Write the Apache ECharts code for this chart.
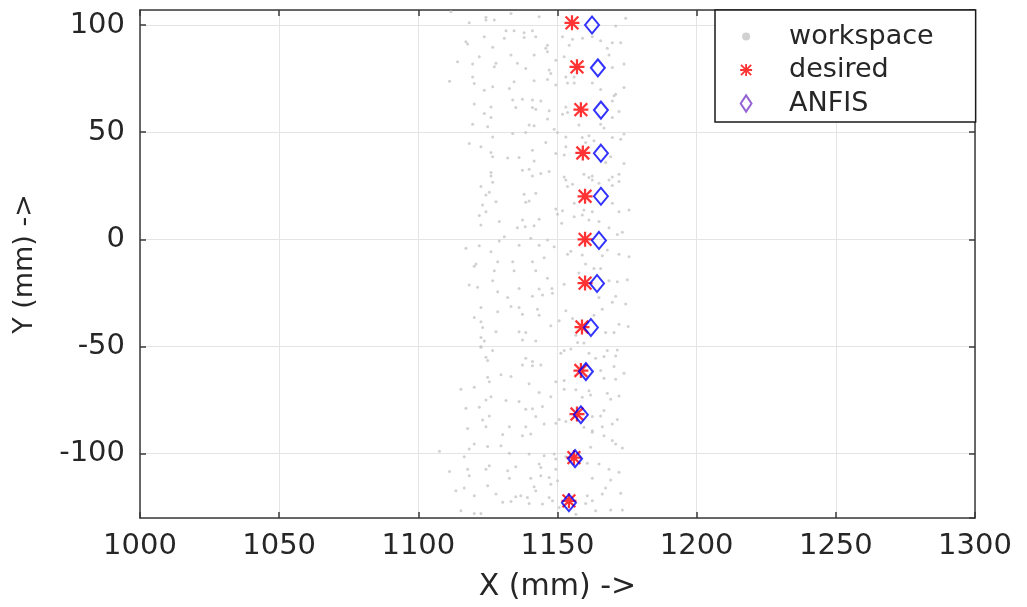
<!DOCTYPE html>
<html>
<head>
<meta charset="utf-8">
<script src="https://cdn.jsdelivr.net/npm/echarts@6/dist/echarts.min.js"></script>
<style>html,body{margin:0;padding:0;background:#fff;}#main{width:1027px;height:607px;}</style>
</head>
<body>
<div id="main"></div>
<script>
// ---- data (mm) ----
const xTicks = [1000, 1050, 1100, 1150, 1200, 1250, 1300];
const yTicks = [-100, -50, 0, 50, 100];

const desiredX = [1155.2, 1157.0, 1158.4, 1159.1, 1159.9, 1159.9, 1159.9, 1158.8, 1158.4, 1157.0, 1155.9, 1154.1];
const desiredY = [101, 80.5, 60.5, 40.3, 20.1, 0, -20.4, -40.9, -61.2, -81.5, -101.8, -122];

const anfisX = [1162.4, 1164.5, 1165.6, 1165.6, 1165.6, 1164.9, 1164.2, 1162.0, 1160.2, 1158.4, 1156.3, 1154.1];
const anfisY = [100, 80, 60.3, 40.2, 20.1, -0.5, -20.6, -41.1, -61.7, -81.8, -102.3, -122.9];

const workspace = [
[1111.7,106.2],[1133.3,105.4],[1143.4,103.9],[1124.3,103.6],[1124.3,102.3],[1127.3,102.3],[1118.3,101.1],[1174.5,103.1],[1170.9,99.5],[1131.5,97.3],
[1134.4,97.3],[1138.0,96.4],[1141.0,97.3],[1142.2,94.5],[1123.7,94.5],[1138.0,94.2],[1117.1,92.2],[1117.7,91.1],[1130.9,93.8],[1126.7,89.6],
[1146.4,90.6],[1145.8,89.1],[1146.4,87.5],[1155.4,93.3],[1159.0,93.8],[1151.8,94.5],[1165.5,92.7],[1169.7,91.7],[1172.7,91.7],[1154.2,90.6],
[1162.5,94.5],[1167.9,89.1],[1168.5,86.0],[1133.3,86.0],[1141.6,86.0],[1121.9,85.2],[1114.1,82.9],[1119.5,81.8],[1127.9,82.1],[1127.3,80.5],
[1135.6,82.1],[1149.4,83.6],[1138.6,79.7],[1147.0,79.0],[1147.6,77.4],[1169.7,80.2],[1173.9,81.8],[1152.4,85.2],[1153.0,75.8],[1156.0,75.8],
[1153.6,73.0],[1156.0,73.0],[1162.5,73.0],[1165.5,69.9],[1170.9,67.7],[1173.9,70.9],[1119.5,75.8],[1120.1,72.7],[1111.2,73.8],[1134.4,73.5],
[1141.6,74.0],[1146.4,74.6],[1149.4,72.0],[1123.7,69.6],[1126.7,71.2],[1132.7,70.4],
[1120.1,63.1],[1126.1,61.8],[1133.9,65.0],[1137.4,65.4],[1141.0,65.0],[1144.0,64.6],[1135.0,61.5],[1141.0,61.5],[1142.2,60.7],[1147.0,60.0],
[1123.7,58.7],[1126.1,56.9],[1146.4,56.1],[1153.0,61.8],[1151.8,58.4],[1153.6,59.2],[1119.5,53.7],[1124.9,52.5],[1139.8,53.4],[1141.6,53.0],
[1148.8,51.4],[1157.7,53.4],[1165.5,53.7],[1166.7,51.9],[1169.7,56.9],[1172.1,59.7],[1169.7,64.6],[1170.3,67.0],[1126.7,47.8],[1133.9,49.4],
[1138.6,49.9],[1118.3,44.7],[1122.5,43.2],[1145.8,45.2],[1150.0,49.9],[1153.0,47.8],[1158.9,47.5],[1161.3,48.3],[1163.1,46.0],[1160.1,45.2],
[1169.7,47.5],[1172.7,46.7],[1173.9,49.1],[1153.0,43.2],[1149.4,40.0],[1152.4,39.4],[1126.1,40.5],[1126.7,38.5],[1132.1,37.9],[1136.2,38.2],
[1141.0,41.6],[1141.6,36.6],[1139.8,32.7],[1137.4,32.2],[1144.0,30.7],[1147.0,31.6],[1126.1,31.2],[1126.1,29.6],[1141.0,29.6],[1152.4,29.1],
[1159.5,30.4],[1161.3,28.8],[1162.5,29.6],[1167.3,35.8],[1169.1,38.5],[1173.9,35.4],[1172.1,30.4],[1169.7,29.1],
[1122.5,24.6],[1126.7,26.6],[1125.5,22.0],[1124.3,20.7],[1127.9,17.6],[1123.1,16.0],[1124.3,12.9],[1121.9,11.1],[1122.5,6.7],[1129.1,8.3],
[1138.0,21.0],[1142.2,21.5],[1138.6,17.3],[1139.8,17.9],[1137.4,9.0],[1143.4,9.4],[1135.6,5.4],[1138.4,5.9],[1141.6,6.4],[1149.4,14.2],
[1150.0,11.7],[1151.8,13.4],[1151.5,7.5],[1153.0,27.7],[1155.4,25.7],[1153.6,24.6],[1162.5,27.7],[1164.9,26.2],[1168.5,27.7],[1169.7,25.1],
[1172.1,27.0],[1156.0,16.8],[1159.5,13.7],[1162.5,12.9],[1158.9,11.4],[1156.0,10.6],[1161.3,9.0],[1164.9,8.3],[1169.7,16.8],[1172.1,12.9],
[1175.7,13.7],[1168.5,5.4],[1171.5,2.3],[1173.3,3.3],[1130.9,1.2],[1129.1,-0.8],[1140.4,0.5],[1146.4,-0.3],[1117.1,-4.2],[1121.9,-3.0],
[1126.1,-5.8],[1136.2,-2.7],[1143.4,-2.7],[1148.8,-3.4],[1154.8,-5.5],[1153.6,-7.0],[1158.9,-7.3],[1166.1,-7.6],[1167.9,-5.0],[1172.1,-7.0],
[1175.7,-8.1],[1145.2,-8.6],[1128.5,-10.4],[1133.9,-10.4],[1141.0,-10.4],
[1120.1,-12.6],[1120.7,-11.5],[1127.3,-14.6],[1134.4,-14.6],[1142.2,-14.6],[1146.4,-18.2],[1118.3,-21.3],[1121.3,-22.4],[1126.7,-19.3],[1128.5,-24.5],
[1136.2,-22.9],[1132.1,-27.1],[1141.0,-26.6],[1143.4,-23.2],[1144.6,-26.0],[1148.0,-22.9],[1148.2,-25.1],[1152.4,-20.9],[1160.1,-11.5],[1163.1,-13.6],
[1165.5,-13.6],[1157.7,-15.7],[1168.5,-19.3],[1171.5,-19.8],[1175.1,-18.8],[1164.9,-27.1],[1170.9,-26.6],[1169.7,-29.4],[1174.5,-30.2],[1166.1,-32.6],
[1122.5,-31.8],[1120.1,-36.5],[1122.5,-38.5],[1123.1,-41.1],[1128.5,-33.8],[1133.3,-31.3],[1136.2,-31.8],[1137.4,-34.9],[1142.8,-32.6],[1143.4,-35.4],
[1153.0,-33.3],[1155.4,-36.9],[1147.6,-40.3],[1150.6,-38.0],[1127.9,-43.1],[1136.2,-43.1],[1138.6,-43.5],[1122.5,-45.8],[1123.7,-47.4],[1122.5,-50.0],
[1137.4,-46.9],[1142.2,-47.4],[1156.6,-44.7],[1157.2,-48.1],[1159.5,-48.4],[1163.1,-35.4],[1167.3,-43.5],[1170.3,-43.5],[1172.1,-39.6],[1175.4,-40.7],
[1122.5,-50.3],[1126.7,-51.9],[1124.3,-55.0],[1124.9,-56.5],[1138.6,-55.5],[1141.0,-57.0],[1137.4,-58.6],[1141.0,-59.0],[1144.0,-58.6],[1151.2,-53.1],
[1152.4,-51.9],[1154.8,-51.2],[1161.3,-53.1],[1163.7,-55.5],[1166.7,-54.7],[1167.9,-51.9],[1170.9,-54.4],[1171.5,-51.6],[1129.7,-63.2],[1133.3,-64.0],
[1124.9,-64.3],[1125.5,-66.4],[1139.8,-67.4],[1149.4,-66.4],[1152.4,-65.9],[1115.3,-69.9],[1120.1,-69.0],[1165.5,-61.2],[1166.7,-64.8],[1170.9,-65.3],
[1173.9,-62.5],[1170.3,-59.3],[1152.4,-69.9],[1156.6,-70.2],[1161.3,-70.6],[1161.9,-72.6],[1158.9,-73.7],[1167.9,-71.8],[1172.1,-73.1],[1169.1,-74.6],
[1143.4,-71.5],[1147.6,-73.4],[1126.1,-73.4],[1124.3,-74.9],[1131.5,-75.2],[1136.2,-75.7],[1117.1,-78.8],[1121.9,-78.3],[1125.5,-82.4],[1123.1,-84.3],
[1138.6,-79.3],[1141.0,-79.0],[1144.6,-78.0],[1142.2,-82.7],[1150.6,-84.0],[1153.0,-85.0],[1162.5,-82.7],[1166.7,-79.9],[1165.5,-82.4],[1171.5,-84.0],
[1169.7,-86.1],[1166.1,-87.4],[1162.5,-89.3],[1159.5,-87.7],[1149.4,-85.8],[1145.2,-86.1],[1138.6,-87.4],[1132.7,-87.4],[1124.3,-87.4],[1117.7,-88.2],
[1130.3,-91.1],[1137.4,-91.6],[1140.4,-90.8],[1162.5,-90.0],[1166.7,-91.6],[1169.7,-93.9],[1170.9,-95.5],[1173.3,-97.4],[1161.9,-97.0],[1120.1,-95.5],
[1118.3,-97.8],[1124.9,-96.7],[1129.7,-96.3],[1107.6,-98.9],[1116.5,-101.4],[1132.7,-99.8],[1139.8,-100.2],[1145.2,-100.9],[1148.8,-100.2],[1149.4,-102.5],
[1153.0,-101.4],[1160.7,-104.5],[1164.9,-104.8],[1168.5,-107.2],[1172.1,-108.7],[1111.2,-108.3],[1117.7,-107.2],[1124.3,-107.2],[1125.5,-105.6],[1132.1,-107.9],
[1135.0,-106.1],[1143.4,-104.8],[1144.0,-106.4],[1118.3,-110.3],[1132.7,-111.4],[1140.4,-111.4],[1144.0,-110.3],[1147.0,-111.1],[1149.4,-107.2],[1162.5,-111.4],
[1169.1,-112.3],[1124.9,-114.9],[1116.5,-116.0],[1113.5,-117.3],[1141.6,-115.4],[1142.2,-117.3],[1147.6,-114.2],[1150.0,-112.6],[1166.1,-118.8],[1167.3,-116.0],
[1172.7,-118.5],[1162.5,-121.9],[1160.7,-119.6],[1160.1,-123.2],[1127.9,-118.8],[1120.1,-119.6],[1135.0,-120.1],[1136.8,-119.6],[1139.2,-120.4],[1139.8,-123.2],
[1144.6,-123.5],[1130.3,-122.7],[1133.3,-122.3],[1147.0,-120.4],[1148.2,-122.0],[1115.3,-126.6],[1120.1,-127.9],[1122.5,-127.9],[1150.6,-125.1],[1156.6,-128.2],
[1163.7,-126.6],[1169.1,-126.3],[1173.3,-126.3]
];

const seriesNames = ['workspace', 'desired', 'ANFIS'];

// ---- styling ----
const FONT = 'DejaVu Sans';
const AX = '#3a3a3a';
const TXT = '#262626';
const GRIDC = '#e4e4e4';
const ASTER = 'M8.5,0h3v20h-3zM0,8.5h20v3h-20zM2.56,0.44L19.56,17.44L17.44,19.56L0.44,2.56zM17.44,0.44L19.56,2.56L2.56,19.56L0.44,17.44z';
const iconDot = 'path://M0,0M18,18M5,9a4,4 0 1,0 8,0a4,4 0 1,0 -8,0Z';
const iconAster = 'path://M-5,-5M25,25' + ASTER;
const iconDiamond = 'path://M-3,-1M15,19M6,0L12,9L6,18L0,9Z';

const zip = (a, b) => a.map((v, i) => [v, b[i]]);

const chart = echarts.init(document.getElementById('main'), null, {renderer: 'canvas'});
chart.setOption({
  animation: false,
  backgroundColor: '#fff',
  grid: {left: 140, right: 52, top: 10, bottom: 89, containLabel: false},
  legend: {
    orient: 'vertical', left: 715, top: 10,
    itemWidth: 30, itemHeight: 18, itemGap: 6.5,
    padding: [13, 42, 5, 22],
    backgroundColor: '#fff', borderColor: '#1a1a1a', borderWidth: 1.5,
    selectedMode: false,
    textStyle: {fontFamily: FONT, fontSize: 27, color: TXT, padding: [0, 0, 0, 23]},
    data: [
      {name: seriesNames[0], icon: iconDot},
      {name: seriesNames[1], icon: iconAster},
      {name: seriesNames[2], icon: iconDiamond, itemStyle: {color: 'transparent', borderColor: '#7a3cc8', borderWidth: 2}}
    ]
  },
  xAxis: [{
    type: 'value', min: xTicks[0], max: xTicks[xTicks.length - 1], interval: 50,
    name: 'X (mm) ->', nameLocation: 'middle', nameGap: 54,
    nameTextStyle: {fontFamily: FONT, fontSize: 30, color: TXT},
    axisLine: {show: true, onZero: false, lineStyle: {color: AX, width: 1.5}},
    axisTick: {show: true, inside: true, length: 6, lineStyle: {color: AX, width: 1.5}},
    axisLabel: {fontFamily: FONT, fontSize: 29, color: TXT, margin: 14, formatter: v => String(v)},
    splitLine: {show: true, lineStyle: {color: GRIDC, width: 1}}
  }, {
    type: 'value', position: 'top', min: xTicks[0], max: xTicks[xTicks.length - 1], interval: 50,
    axisLine: {show: true, onZero: false, lineStyle: {color: AX, width: 1.5}},
    axisTick: {show: true, inside: true, length: 6, lineStyle: {color: AX, width: 1.5}},
    axisLabel: {show: false}, splitLine: {show: false}
  }],
  yAxis: [{
    type: 'value', min: -130, max: 107,
    name: 'Y (mm) ->', nameLocation: 'middle', nameGap: 102, nameRotate: 90,
    nameTextStyle: {fontFamily: FONT, fontSize: 27, color: TXT},
    axisLine: {show: true, onZero: false, lineStyle: {color: AX, width: 1.5}},
    axisTick: {show: true, inside: true, length: 6, lineStyle: {color: AX, width: 1.5}},
    axisLabel: {fontFamily: FONT, fontSize: 29, color: TXT, margin: 15, showMinLabel: false, showMaxLabel: false,
      formatter: v => (yTicks.indexOf(v) >= 0 ? String(v) : '')},
    splitLine: {show: true, lineStyle: {color: GRIDC, width: 1}}
  }, {
    type: 'value', position: 'right', min: -130, max: 107,
    axisLine: {show: true, onZero: false, lineStyle: {color: AX, width: 1.5}},
    axisTick: {show: true, inside: true, length: 6, lineStyle: {color: AX, width: 1.5}},
    axisLabel: {show: false}, splitLine: {show: false}
  }],
  series: [{
    name: seriesNames[0], type: 'scatter', data: workspace,
    symbol: 'circle', symbolSize: 3,
    itemStyle: {color: '#c6c6c6'}, silent: true, z: 2
  }, {
    name: seriesNames[1], type: 'scatter', data: zip(desiredX, desiredY),
    symbol: 'path://' + ASTER, symbolSize: 15,
    itemStyle: {color: '#ff0000'}, silent: true, z: 3
  }, {
    name: seriesNames[2], type: 'scatter', data: zip(anfisX, anfisY),
    symbol: 'diamond', symbolSize: [14, 17],
    itemStyle: {color: 'transparent', borderColor: '#0000ff', borderWidth: 2}, silent: true, z: 4
  }]
});
</script>
</body>
</html>
